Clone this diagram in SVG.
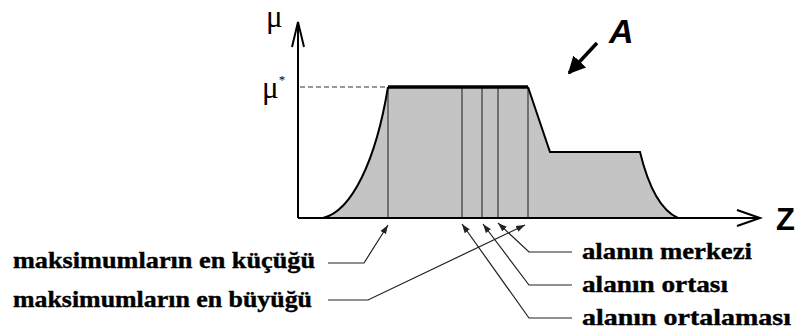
<svg xmlns="http://www.w3.org/2000/svg" width="796" height="332" viewBox="0 0 796 332">
<defs>
<style>
.lbl{font-family:"Liberation Serif","Times New Roman",serif;font-weight:bold;font-size:24px;fill:#000;stroke:#000;stroke-width:0.4}
.ax{stroke:#000;stroke-width:2;fill:none}
.vl{stroke:#555;stroke-width:1.5}
.ld{stroke:#222;stroke-width:1.2;fill:none;marker-end:url(#ah)}
.mu{font-family:"Liberation Serif","Times New Roman",serif;font-size:31px;fill:#000}
</style>
<marker id="ah" viewBox="0 0 10 10" refX="10" refY="5" markerWidth="9" markerHeight="9" markerUnits="userSpaceOnUse" orient="auto">
<path d="M0,1.5 L10,5 L0,8.5 Z" fill="#222"/>
</marker>
<marker id="ahA" viewBox="0 0 10 10" refX="9" refY="5" markerWidth="5" markerHeight="5" orient="auto">
<path d="M0,0 L10,5 L0,10 Z" fill="#000"/>
</marker>
</defs>
<rect width="796" height="332" fill="#fff"/>
<g id="area">
<path d="M323,218 C352,211 376,160 388,87 L528,87 L550,152 L640,152 C648,185 660,210 678,218 Z" fill="#c4c4c4" stroke="none"/>
<line class="vl" x1="388" y1="87" x2="388" y2="218"/>
<line class="vl" x1="462" y1="87" x2="462" y2="218"/>
<line class="vl" x1="482" y1="87" x2="482" y2="218"/>
<line class="vl" x1="498" y1="87" x2="498" y2="218"/>
<line class="vl" x1="528" y1="87" x2="528" y2="218"/>
<path d="M323,218 C352,211 376,160 388,87" fill="none" stroke="#000" stroke-width="2"/>
<path d="M388,87 L528,87" fill="none" stroke="#000" stroke-width="3.5"/>
<path d="M528,87 L550,152 L640,152 C648,185 660,210 678,218" fill="none" stroke="#000" stroke-width="2"/>
<line x1="300" y1="87" x2="386" y2="87" stroke="#777" stroke-width="1.3" stroke-dasharray="5,3"/>
</g>
<g id="axes">
<line class="ax" x1="298" y1="218" x2="760" y2="218"/>
<line class="ax" x1="298" y1="218" x2="298" y2="22"/>
<path class="ax" d="M292,47 L298,22 L304,47" stroke-width="1.8"/>
<path class="ax" d="M737,210 L760,218 L737,226" stroke-width="1.8"/>
<text x="776" y="230" font-family="Liberation Sans, Arial, sans-serif" font-weight="bold" font-size="31">Z</text>
<text class="mu" x="266" y="27">μ</text>
<text class="mu" x="262" y="98">μ<tspan font-size="13" dy="-14">*</tspan></text>
</g>
<g id="pointerA">
<line x1="597" y1="43" x2="569" y2="73" stroke="#000" stroke-width="3.5" marker-end="url(#ahA)"/>
<text x="609" y="43" font-family="Liberation Sans, Arial, sans-serif" font-weight="bold" font-style="italic" font-size="34">A</text>
</g>
<g id="connectors">
<path class="ld" d="M328,263 H364 L388,225"/>
<path class="ld" d="M328,300 H368 L525,225"/>
<path class="ld" d="M572,252 H529 L498,223"/>
<path class="ld" d="M572,285 H529 L483,224"/>
<path class="ld" d="M572,318 H529 L462,224"/>
</g>
<g id="label-min">
<text class="lbl" x="13" y="268" textLength="302" lengthAdjust="spacingAndGlyphs">maksimumların en küçüğü</text>
</g>
<g id="label-max">
<text class="lbl" x="13" y="307" textLength="299" lengthAdjust="spacingAndGlyphs">maksimumların en büyüğü</text>
</g>
<g id="label-merkez">
<text class="lbl" x="582" y="259" textLength="170" lengthAdjust="spacingAndGlyphs">alanın merkezi</text>
</g>
<g id="label-orta">
<text class="lbl" x="582" y="292" textLength="146" lengthAdjust="spacingAndGlyphs">alanın ortası</text>
</g>
<g id="label-ortalama">
<text class="lbl" x="582" y="325" textLength="209" lengthAdjust="spacingAndGlyphs">alanın ortalaması</text>
</g>
</svg>
